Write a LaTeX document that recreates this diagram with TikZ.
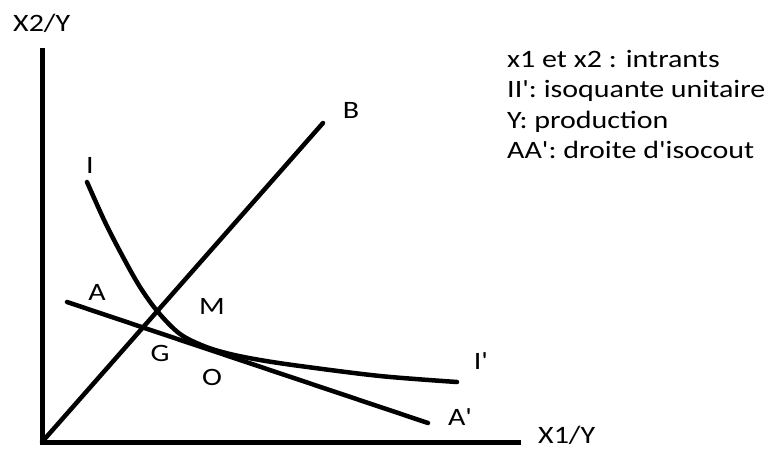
\documentclass[tikz,border=0pt]{standalone}
\usepackage{fontspec}
\setmainfont{Carlito}[FakeStretch=1.2, Ligatures=TeXOff]
\begin{document}
\begin{tikzpicture}[x=1pt,y=-1pt,
  axisline/.style={line width=5pt},
  curveline/.style={line width=4.5pt, line cap=round, line join=round},
  lbl/.style={inner sep=0pt, font=\fontsize{25}{30}\selectfont},
  legend/.style={inner sep=0pt, anchor=base west, font=\fontsize{25}{30}\selectfont}]
\useasboundingbox (0,0) rectangle (770,450);
% axes
\coordinate (top) at (42,48);
\coordinate (orig) at (42,442);
\coordinate (right) at (521,442);
\draw[axisline] (top) -- (42,444.5);
\draw[axisline] (39.5,442) -- (right);
% ray OB
\coordinate (Bend) at (323,123);
\draw[curveline] (orig) -- (Bend);
% isocost line AA'
\coordinate (Astart) at (67,302);
\coordinate (Aend) at (428,423);
\draw[curveline] (Astart) -- (Aend);
% isoquant II'
\draw[curveline] plot[smooth, tension=0.55] coordinates {(87,182) (105,222) (123,257) (140,287) (158,312) (180,334) (205,346.5) (230,354) (260,360) (300,366) (380,376) (457,382)};
% axis labels
\node[legend] (x2) at (13,31) {X2/Y};
\node[legend] (x1) at (538,443) {X1/Y};
% point labels
\node[lbl] (lB) at (351,110) {B};
\node[lbl] (lI) at (90,165) {I};
\node[lbl] (lA) at (97,292) {A};
\node[lbl] (lM) at (212,306) {M};
\node[lbl] (lG) at (160,353) {G};
\node[lbl] (lO) at (212,377) {O};
\node[lbl] (lIp) at (481,361) {I'};
\node[lbl] (lAp) at (460,417) {A'};
% legend
\node[legend] (leg1) at (507,67) {x1 et x2 : intrants};
\node[legend] (leg2) at (507,97.5) {II': isoquante unitaire};
\node[legend] (leg3) at (507,128) {Y: production};
\node[legend] (leg4) at (507,158.5) {AA': droite d'isocout};
\end{tikzpicture}
\end{document}
